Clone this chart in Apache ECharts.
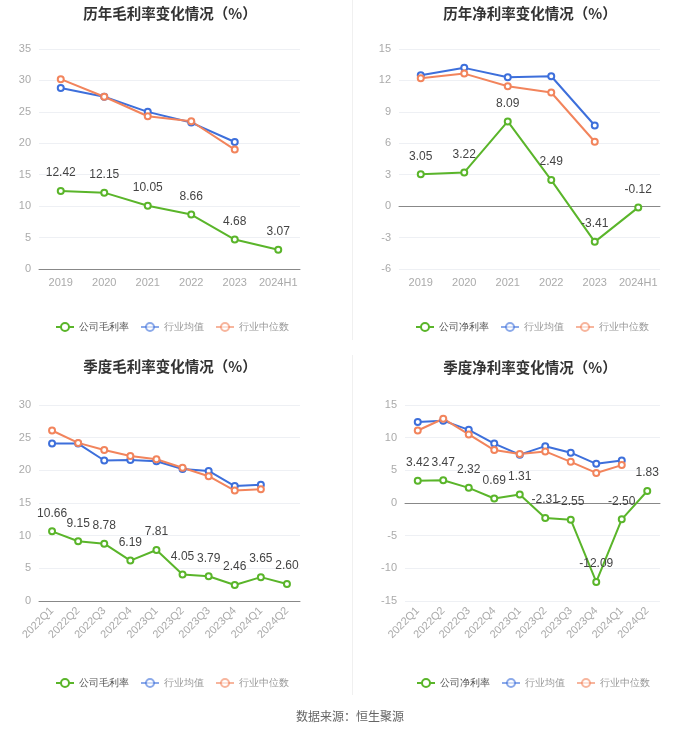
<!DOCTYPE html>
<html><head><meta charset="utf-8">
<script src="https://cdn.jsdelivr.net/npm/echarts@6/dist/echarts.min.js"></script>
<style>html,body{margin:0;padding:0;background:#fff;}#c{width:700px;height:734px;}</style>
</head><body><div id="c"></div>
<script>
// ---- data ----
var yearCats = ['2019','2020','2021','2022','2023','2024H1'];
var grossCompany = [12.42, 12.15, 10.05, 8.66, 4.68, 3.07];
var grossMean = [28.8, 27.4, 25.0, 23.3, 20.2, null];
var grossMedian = [30.2, 27.4, 24.3, 23.5, 19.0, null];

var netCompany = [3.05, 3.22, 8.09, 2.49, -3.41, -0.12];
var netMean = [12.5, 13.2, 12.3, 12.4, 7.7, null];
var netMedian = [12.2, 12.65, 11.45, 10.85, 6.15, null];

var quarterCats = ['2022Q1','2022Q2','2022Q3','2022Q4','2023Q1','2023Q2','2023Q3','2023Q4','2024Q1','2024Q2'];
var qGrossCompany = [10.66, 9.15, 8.78, 6.19, 7.81, 4.05, 3.79, 2.46, 3.65, 2.60];
var qGrossMean = [24.1, 24.1, 21.5, 21.6, 21.4, 20.2, 19.9, 17.6, 17.8, null];
var qGrossMedian = [26.1, 24.2, 23.1, 22.2, 21.7, 20.4, 19.1, 16.9, 17.1, null];

var qNetCompany = [3.42, 3.47, 2.32, 0.69, 1.31, -2.31, -2.55, -12.09, -2.50, 1.83];
var qNetMean = [12.4, 12.6, 11.2, 9.1, 7.4, 8.7, 7.7, 6.0, 6.5, null];
var qNetMedian = [11.1, 12.9, 10.5, 8.1, 7.5, 7.9, 6.3, 4.6, 5.8, null];

var titles = ['历年毛利率变化情况（%）','历年净利率变化情况（%）','季度毛利率变化情况（%）','季度净利率变化情况（%）'];
var companyNames = ['公司毛利率','公司净利率','公司毛利率','公司净利率'];
var meanName = '行业均值', medianName = '行业中位数';
var sourceText = '数据来源：恒生聚源';

// ---- styles ----
var GREEN = '#5ab52a', BLUE = '#3d6fdb', ORANGE = '#f2845c';
var panels = [
  {cats: yearCats, c: grossCompany, m: grossMean, d: grossMedian, min: 0, max: 35, iv: 5,
   grid: {left: 39, width: 261, top: 49, height: 220}, tx: 165, ty: 1, ly: 317, lx: 166, rot: 0},
  {cats: yearCats, c: netCompany, m: netMean, d: netMedian, min: -6, max: 15, iv: 3,
   grid: {left: 399, width: 261, top: 49, height: 220}, tx: 525, ty: 1, ly: 317, lx: 526, rot: 0},
  {cats: quarterCats, c: qGrossCompany, m: qGrossMean, d: qGrossMedian, min: 0, max: 30, iv: 5,
   grid: {left: 39, width: 261, top: 405, height: 196}, tx: 165, ty: 354, ly: 673, lx: 166, rot: 45},
  {cats: quarterCats, c: qNetCompany, m: qNetMean, d: qNetMedian, min: -15, max: 15, iv: 5,
   grid: {left: 405, width: 255, top: 405, height: 196}, tx: 525, ty: 355, ly: 673, lx: 527, rot: 45}
];

var option = {
  animation: false,
  backgroundColor: '#fff',
  title: [], legend: [], grid: [], xAxis: [], yAxis: [], series: [],
  graphic: [
    {type: 'line', shape: {x1: 352.5, y1: 0, x2: 352.5, y2: 340}, style: {stroke: '#f0f0f0', lineWidth: 1}},
    {type: 'line', shape: {x1: 352.5, y1: 355, x2: 352.5, y2: 695}, style: {stroke: '#f0f0f0', lineWidth: 1}},
    {type: 'text', left: 'center', top: 710, style: {text: sourceText, fill: '#666', font: '12px "Noto Sans CJK SC", sans-serif'}}
  ]
};

panels.forEach(function (p, i) {
  option.title.push({text: titles[i], left: p.tx, top: p.ty, textAlign: 'center',
    textStyle: {fontSize: 14.5, fontWeight: 'bold', color: '#333', fontFamily: '"Noto Sans CJK SC", sans-serif'}});
  option.grid.push(p.grid);
  option.xAxis.push({type: 'category', gridIndex: i, data: p.cats, boundaryGap: true,
    axisLine: {lineStyle: {color: '#888'}},
    axisTick: {alignWithLabel: true, lineStyle: {color: '#888'}},
    axisLabel: {color: '#aaa', fontSize: 11, rotate: p.rot, interval: 0, margin: 8}});
  option.yAxis.push({type: 'value', gridIndex: i, min: p.min, max: p.max, interval: p.iv,
    axisLine: {show: false}, axisTick: {show: false},
    axisLabel: {color: '#aaa', fontSize: 11, margin: 8},
    splitLine: {lineStyle: {color: '#eef0f4'}}});
  var cName = companyNames[i];
  option.legend.push({
    data: [
      {name: cName, textStyle: {color: '#555'}},
      {name: meanName, textStyle: {color: '#999'}, itemStyle: {opacity: 0.6}, lineStyle: {opacity: 0.6}},
      {name: medianName, textStyle: {color: '#999'}, itemStyle: {opacity: 0.6}, lineStyle: {opacity: 0.6}}
    ],
    left: p.lx - 116, top: p.ly, orient: 'horizontal',
    itemWidth: 18, itemHeight: 10, itemGap: 11, textStyle: {fontSize: 10}, selectedMode: false
  });
  option.series.push({name: cName, type: 'line', xAxisIndex: i, yAxisIndex: i, data: p.c,
    symbol: 'emptyCircle', symbolSize: 6, z: 3,
    lineStyle: {color: GREEN, width: 2}, itemStyle: {color: GREEN, borderColor: GREEN},
    label: {show: true, position: 'top', color: '#444', fontSize: 12, distance: 8,
      formatter: function (o) { return o.value.toFixed(2); }}});
  option.series.push({name: meanName, type: 'line', xAxisIndex: i, yAxisIndex: i, data: p.m,
    symbol: 'emptyCircle', symbolSize: 6,
    lineStyle: {color: BLUE, width: 2}, itemStyle: {color: BLUE, borderColor: BLUE}});
  option.series.push({name: medianName, type: 'line', xAxisIndex: i, yAxisIndex: i, data: p.d,
    symbol: 'emptyCircle', symbolSize: 6,
    lineStyle: {color: ORANGE, width: 2}, itemStyle: {color: ORANGE, borderColor: ORANGE}});
});

var chart = echarts.init(document.getElementById('c'));
chart.setOption(option);
</script></body></html>
